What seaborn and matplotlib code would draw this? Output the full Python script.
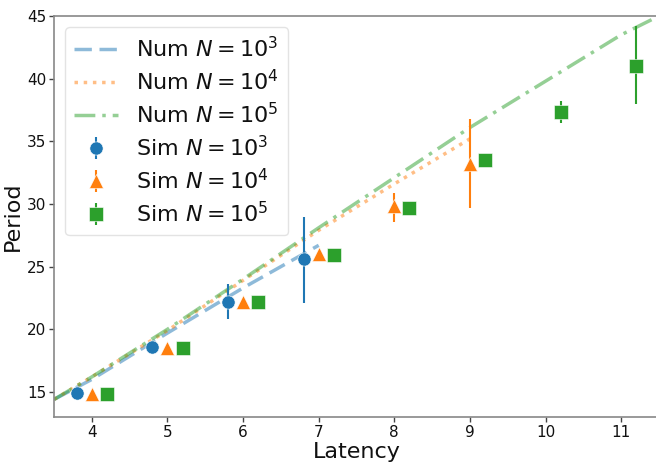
import matplotlib
matplotlib.use("Agg")
import matplotlib.pyplot as plt
import seaborn as sns
import numpy as np
import pandas as pd

sns.set_theme(style="white")
plt.rcParams['font.family'] = ['DejaVu Sans']

# Numerical curves
num3_x = [3.5, 4.0, 5.0, 6.0, 7.0]
num3_y = [14.4, 16.0, 19.7, 23.3, 26.7]
num4_x = [3.5, 4.0, 5.0, 6.0, 7.0, 8.0, 9.0]
num4_y = [14.4, 16.2, 19.9, 23.9, 27.9, 31.6, 35.2]
num5_x = [3.5, 4.0, 5.0, 6.0, 7.0, 8.0, 9.0, 10.0, 11.0, 11.5]
num5_y = [14.4, 16.2, 20.0, 24.0, 28.1, 32.1, 36.1, 39.8, 43.5, 45.0]

# Simulation points
sim3_x = [3.8, 4.8, 5.8, 6.8]
sim3_y = [14.9, 18.6, 22.2, 25.6]
sim3_lo = [14.8, 18.4, 20.8, 22.1]
sim3_hi = [15.0, 18.8, 23.6, 29.0]

sim4_x = [4.0, 5.0, 6.0, 7.0, 8.0, 9.0]
sim4_y = [14.8, 18.5, 22.2, 26.0, 29.8, 33.2]
sim4_lo = [14.7, 18.4, 22.1, 25.8, 28.6, 29.7]
sim4_hi = [14.9, 18.6, 22.3, 26.2, 30.9, 36.8]

sim5_x = [4.2, 5.2, 6.2, 7.2, 8.2, 9.2, 10.2, 11.2]
sim5_y = [14.8, 18.5, 22.2, 25.9, 29.7, 33.5, 37.3, 41.0]
sim5_lo = [14.7, 18.4, 22.1, 25.8, 29.6, 33.2, 36.5, 38.0]
sim5_hi = [14.9, 18.6, 22.3, 26.0, 29.8, 33.8, 38.2, 44.2]

labels_num = [r"Num $N=10^3$", r"Num $N=10^4$", r"Num $N=10^5$"]
labels_sim = [r"Sim $N=10^3$", r"Sim $N=10^4$", r"Sim $N=10^5$"]

colors = sns.color_palette("tab10")[:3]

fig = plt.figure(figsize=(6.56, 4.66), dpi=100)
ax = fig.add_axes([54/656, 49/466, 605/656, 401/466])

num_sets = [(num3_x, num3_y, (5, 2.2)), (num4_x, num4_y, (1, 1.65)), (num5_x, num5_y, (6, 2, 1, 2))]
for (xs, ys, dash), lab, c in zip(num_sets, labels_num, colors):
    df = pd.DataFrame({"x": xs, "y": ys})
    sns.lineplot(data=df, x="x", y="y", ax=ax, color=c, alpha=0.5, lw=2.5,
                 label=lab, dashes=False)
    ax.lines[-1].set_dashes(dash)

sim_sets = [(sim3_x, sim3_y, sim3_lo, sim3_hi, "o"),
            (sim4_x, sim4_y, sim4_lo, sim4_hi, "^"),
            (sim5_x, sim5_y, sim5_lo, sim5_hi, "s")]
for (xs, ys, lo, hi, m), lab, c in zip(sim_sets, labels_sim, colors):
    ys_a = np.array(ys)
    yerr = [ys_a - np.array(lo), np.array(hi) - ys_a]
    ax.errorbar(xs, ys, yerr=yerr, fmt=m, color=c, ms=9.5, elinewidth=1.5,
                mec="white", mew=0.4, label=lab, ls="none")

ax.set_xlim(3.5, 11.5)
ax.set_ylim(13, 45)
ax.set_xticks([4, 5, 6, 7, 8, 9, 10, 11])
ax.set_yticks([15, 20, 25, 30, 35, 40, 45])
ax.tick_params(axis="both", labelsize=11, direction="out", length=3.5, width=1,
               pad=2, bottom=True, left=True, color="#444444", labelcolor="#111111")
for s in ax.spines.values():
    s.set_color("#888888")
    s.set_linewidth(1.2)
ax.set_xlabel("Latency", fontsize=16, labelpad=2, color="#111111")
ax.set_ylabel("Period", fontsize=16, labelpad=3, color="#111111")

leg = ax.legend(loc="upper left", fontsize=16, frameon=True, handlelength=2.0,
                borderaxespad=0.5, labelspacing=0.35)
leg.get_frame().set_edgecolor("#dddddd")
for t in leg.get_texts():
    t.set_color("#111111")

fig.savefig("out.png", dpi=100)
